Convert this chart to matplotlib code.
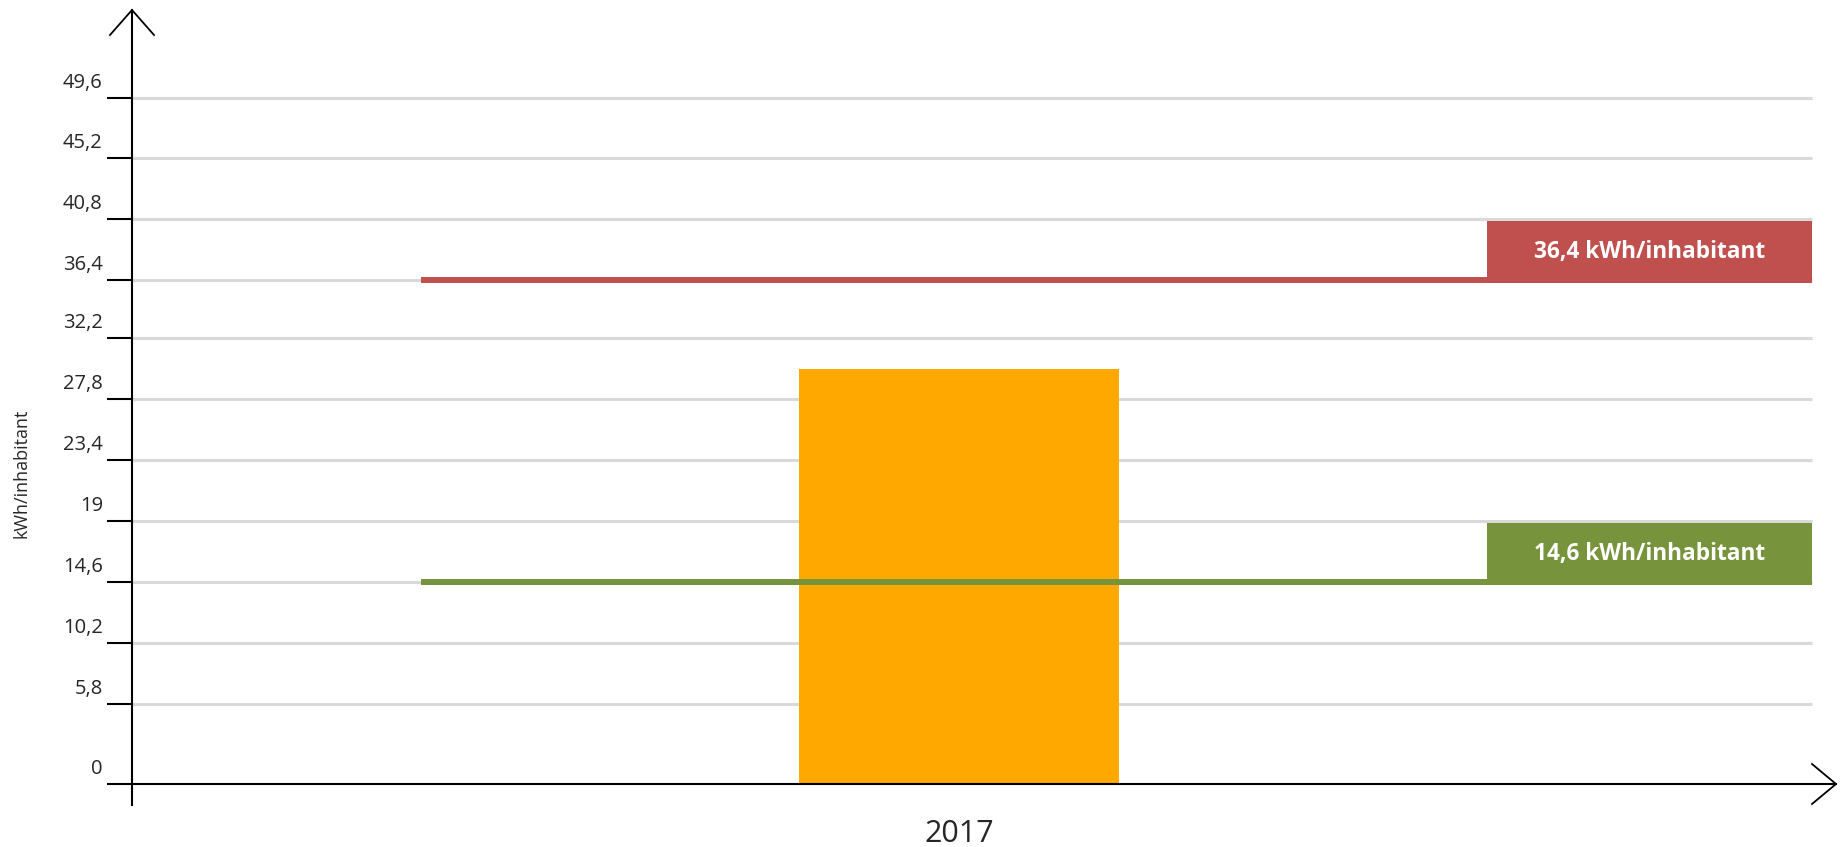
import numpy as np
import matplotlib
matplotlib.use("Agg")
import matplotlib.pyplot as plt
from matplotlib.patches import Rectangle
from matplotlib.transforms import ScaledTranslation

# ---- data ----
categories = ["2017"]
values = [30.0]
ref_values = [36.4, 14.6]
ref_labels = ["36,4 kWh/inhabitant", "14,6 kWh/inhabitant"]
ref_colors = ["#C0504D", "#77933C"]
ytick_values = [0, 5.8, 10.2, 14.6, 19, 23.4, 27.8, 32.2, 36.4, 40.8, 45.2, 49.6]
ytick_labels = ["0", "5,8", "10,2", "14,6", "19", "23,4", "27,8", "32,2", "36,4", "40,8", "45,2", "49,6"]
ylabel = "kWh/inhabitant"

plt.rcParams['font.family'] = ['Open Sans', 'DejaVu Sans']

W, H = 1843, 847
fig = plt.figure(figsize=(W / 100, H / 100), dpi=100)


def px_rect(l, t, r, b):
    return [l / W, 1 - b / H, (r - l) / W, (b - t) / H]


ax = fig.add_axes(px_rect(100, 5, 1840, 805))
PXX = 400.0     # px per x unit
PXY = 13.84     # px per y unit
xc = 959.0      # px of category 0
ax.set_xlim((100 - xc) / PXX, (1840 - xc) / PXX)
ax.set_ylim(-(805 - 784) / PXY, (784 - 5) / PXY)

yaxis_x = (132 - xc) / PXX
x_tip = (1836 - xc) / PXX
y_tip = (784 - 10) / PXY
grid_end = (1812 - xc) / PXX
ref_start = (421 - xc) / PXX
box_start = (1487 - xc) / PXX

# gridlines
for v in ytick_values[1:]:
    ax.hlines(v, yaxis_x, grid_end, color="#D9D9D9", lw=2.2, zorder=1)

# bar
xpos = np.arange(len(categories))
ax.bar(xpos, values, width=0.8, color="#FFA800", zorder=2)

# reference lines with label boxes
half_lw = 3 / PXY
for val, lab, col in zip(ref_values, ref_labels, ref_colors):
    ax.hlines(val, ref_start, box_start, color=col, lw=4.3, zorder=3)
    above = [t for t in ytick_values if t > val + 0.5]
    top = above[0] - 1.5 / PXY
    bottom = val - half_lw
    ax.add_patch(Rectangle((box_start, bottom), grid_end - box_start, top - bottom,
                           facecolor=col, edgecolor="none", zorder=3))
    ax.text((box_start + grid_end) / 2, (top + bottom) / 2, lab, color="white",
            fontsize=16.3, fontweight="bold", ha="center", va="center", zorder=4)

# axes spines as arrows
for s in ["top", "right"]:
    ax.spines[s].set_visible(False)
ax.spines["left"].set_position(("data", yaxis_x))
ax.spines["left"].set_bounds(ax.get_ylim()[0], y_tip)
ax.spines["bottom"].set_position(("data", 0))
ax.spines["bottom"].set_bounds(yaxis_x, x_tip)
for s in ["left", "bottom"]:
    ax.spines[s].set_linewidth(1.5)
    ax.spines[s].set_color("black")
    ax.spines[s].set_zorder(5)

dx_arm = 22 / PXX
dy_arm = 25 / PXY
ax.plot([yaxis_x - dx_arm, yaxis_x, yaxis_x + dx_arm], [y_tip - dy_arm, y_tip, y_tip - dy_arm],
        color="black", lw=1.3, clip_on=False, zorder=5)
ax.plot([x_tip - 24 / PXX, x_tip, x_tip - 24 / PXX], [20 / PXY, 0, -20 / PXY],
        color="black", lw=1.3, clip_on=False, zorder=5)

# ticks
ax.set_yticks(ytick_values, ytick_labels)
ax.tick_params(axis="y", direction="out", length=18, width=1.5, pad=3,
               labelsize=14.5, labelcolor="#262626")
offset = ScaledTranslation(0, 5 / 100, fig.dpi_scale_trans)
for lbl in ax.get_yticklabels():
    lbl.set_va("bottom")
    lbl.set_transform(lbl.get_transform() + offset)

ax.set_xticks(xpos, categories)
ax.tick_params(axis="x", length=0, pad=25, labelsize=22, labelcolor="#262626")

ax.set_ylabel(ylabel, fontsize=13, color="#262626")
ax.yaxis.set_label_coords((31 - 100) / 1740, (805 - 473) / 800)

fig.savefig("out.png", dpi=100)
